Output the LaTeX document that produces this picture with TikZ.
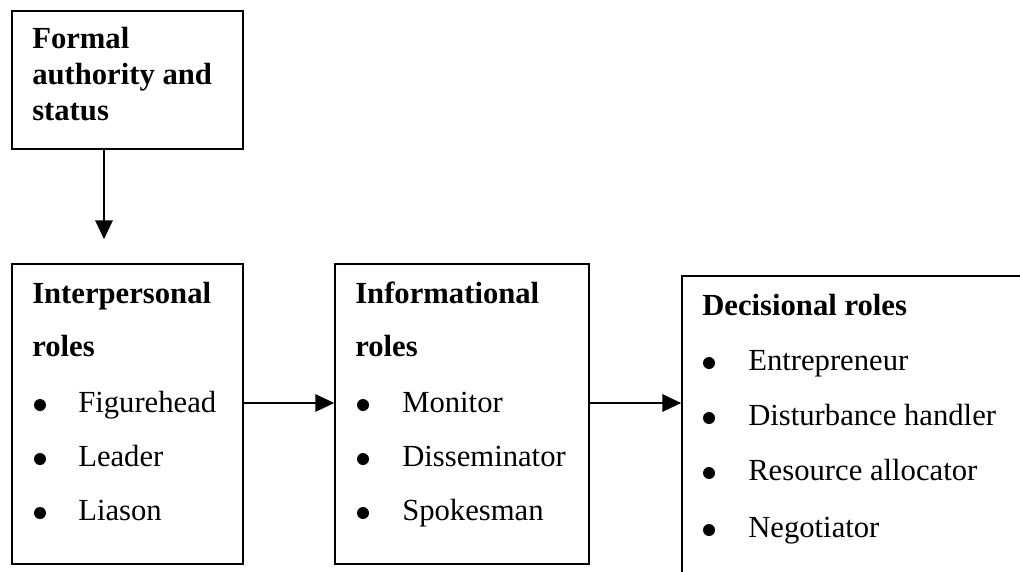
\documentclass[tikz,border=0pt]{standalone}
\usepackage{fontspec}
\setmainfont{Liberation Serif}
\usetikzlibrary{arrows.meta,fit}
\begin{document}
\begin{tikzpicture}[x=0.75pt,y=-0.75pt,
  box/.style={draw=black,line width=1.3pt,inner sep=0pt,fill=none},
  head/.style={anchor=base west,inner sep=0pt,font=\fontsize{23}{26}\selectfont\bfseries},
  item/.style={anchor=base west,inner sep=0pt,font=\fontsize{23}{26}\selectfont},
  dot/.style={circle,fill=black,inner sep=0pt,minimum size=9pt},
  arr/.style={line width=1.3pt,-{Triangle[length=14pt,width=13pt]}}]
\useasboundingbox (0,0) rectangle (1020,571);
\clip (0,0) rectangle (1020,571);
\fill[white] (0,0) rectangle (1020,571);

% boxes
\node[box,fit={(12,11) (243,149)}] (fa) {};
\node[box,fit={(12,264) (243,564)}] (ip) {};
\node[box,fit={(335,264) (589,564)}] (inf) {};
\node[box,fit={(682,276) (1040,600)}] (dec) {};

% formal authority
\node[head] (fa1) at (32,48) {Formal};
\node[head] (fa2) at (32,84) {authority and};
\node[head] (fa3) at (32,120) {status};

% interpersonal roles
\node[head] (ip1) at (32,303) {Interpersonal};
\node[head] (ip2) at (32,356) {roles};
\node[dot] (ipb1) at (40,405) {};
\node[item] (ipi1) at (78,412) {Figurehead};
\node[dot] (ipb2) at (40,459) {};
\node[item] (ipi2) at (78,466) {Leader};
\node[dot] (ipb3) at (40,513) {};
\node[item] (ipi3) at (78,520) {Liason};

% informational roles
\node[head] (in1) at (355,303) {Informational};
\node[head] (in2) at (355,356) {roles};
\node[dot] (inb1) at (363,405) {};
\node[item] (ini1) at (402,412) {Monitor};
\node[dot] (inb2) at (363,459) {};
\node[item] (ini2) at (402,466) {Disseminator};
\node[dot] (inb3) at (363,513) {};
\node[item] (ini3) at (402,520) {Spokesman};

% decisional roles
\node[head] (de1) at (702,315) {Decisional roles};
\node[dot] (deb1) at (709,363) {};
\node[item] (dei1) at (748,370) {Entrepreneur};
\node[dot] (deb2) at (709,418) {};
\node[item] (dei2) at (748,425) {Disturbance handler};
\node[dot] (deb3) at (709,473) {};
\node[item] (dei3) at (748,480) {Resource allocator};
\node[dot] (deb4) at (709,530) {};
\node[item] (dei4) at (748,537) {Negotiator};

% connectors
\coordinate (vx) at (104,0);
\coordinate (hy) at (0,403);
\draw[arr,shorten >=18pt] (fa.south -| vx) -- (ip.north -| vx);
\draw[arr] (ip.east |- hy) -- (inf.west |- hy);
\draw[arr] (inf.east |- hy) -- (dec.west |- hy);
\end{tikzpicture}
\end{document}
